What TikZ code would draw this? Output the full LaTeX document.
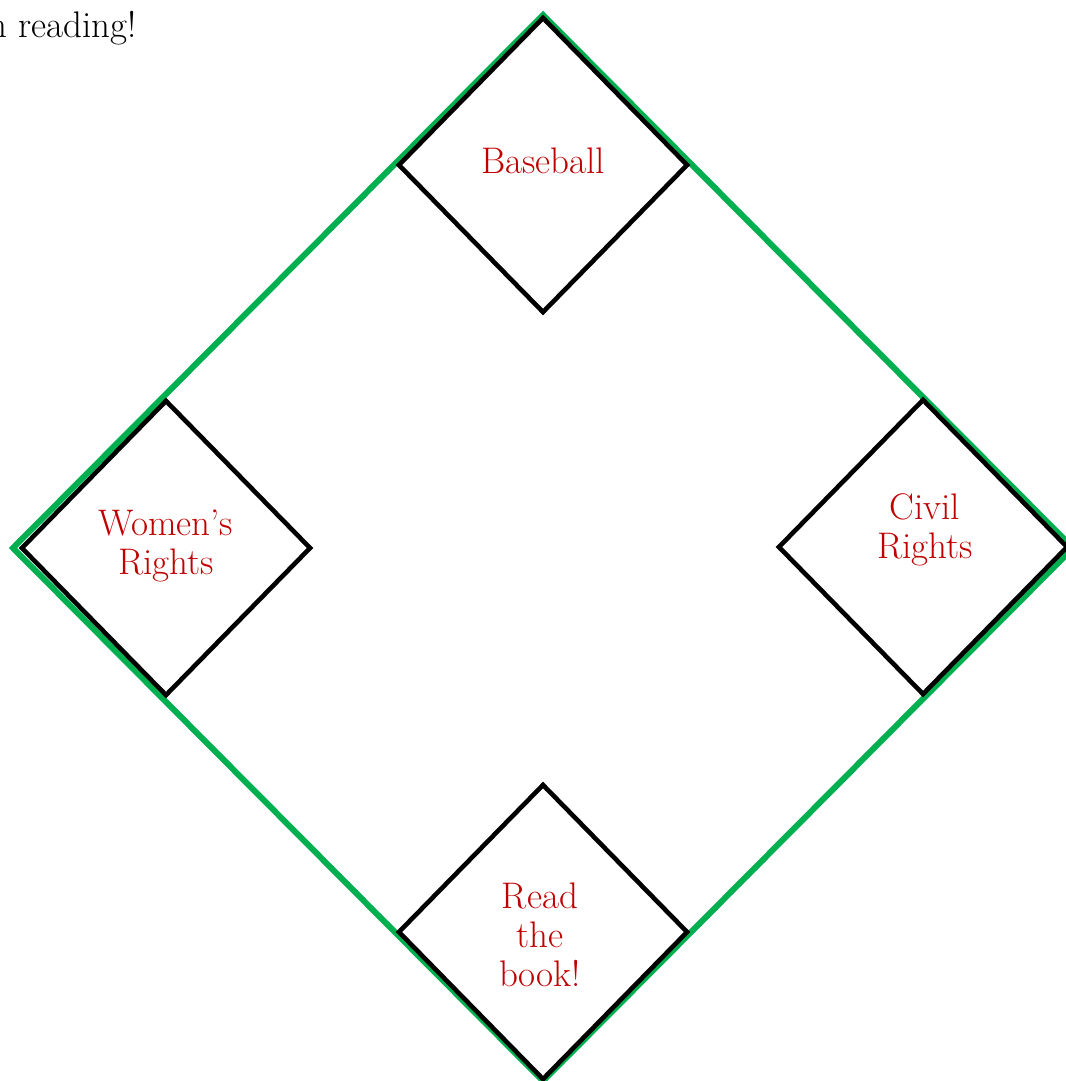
\documentclass[tikz,border=0pt]{standalone}
\usetikzlibrary{shapes.geometric}
\definecolor{fieldgreen}{HTML}{00B050}
\definecolor{labelred}{HTML}{C00000}
\begin{document}
\begin{tikzpicture}[x=0.5pt,y=-0.5pt,
  base/.style={draw=black, line width=2.3pt, diamond, aspect=0.98, minimum width=145pt, minimum height=148pt, inner sep=0pt},
  lbl/.style={text=labelred, align=center, font=\fontsize{18.5}{19.5}\selectfont},
  toptext/.style={font=\fontsize{18.5}{19.5}\selectfont}]
\useasboundingbox (0,0) rectangle (1065,1081);
% outer field
\coordinate (ftop) at (543,15);
\coordinate (fright) at (1073,548);
\coordinate (fbot) at (543,1081);
\coordinate (fleft) at (13,548);
\draw[fieldgreen, line width=3pt, line join=miter] (ftop) -- (fright) -- (fbot) -- (fleft) -- cycle;
% bases
\node[base] (b2) at (543,165) {};
\node[base] (b3) at (166,548) {};
\node[base] (b1) at (923,547) {};
\node[base] (bh) at (543,932) {};
% labels
\node[lbl] (t2) at (543,161) {Baseball};
\node[lbl] (t3) at (166,546) {Women's\\Rights};
\node[lbl] (t1) at (925,530) {Civil\\Rights};
\node[lbl] (th) at (540,935) {Read\\the\\book!};
% cropped top text
\node[toptext, anchor=base east, inner sep=0pt] (top) at (137,38) {n reading!};
\end{tikzpicture}
\end{document}
